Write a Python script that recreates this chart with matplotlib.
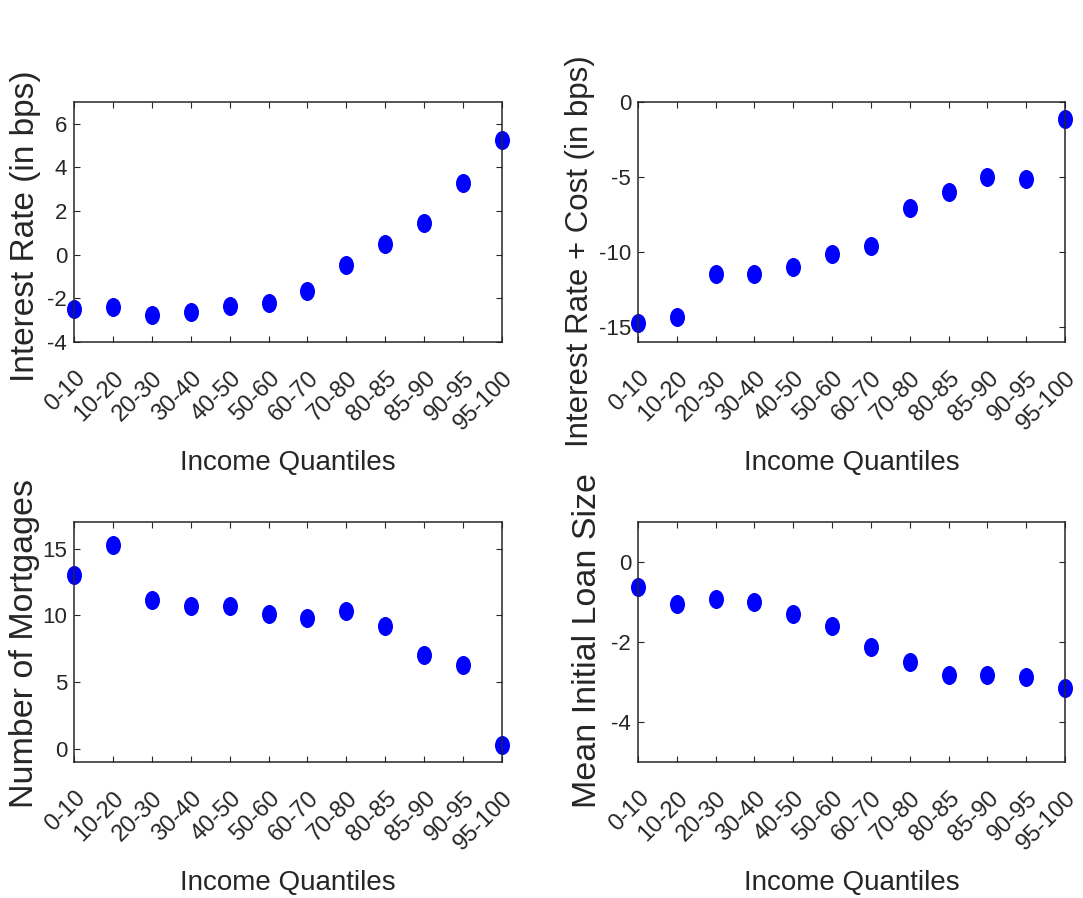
import matplotlib
matplotlib.use('Agg')
import matplotlib.pyplot as plt
from matplotlib.markers import MarkerStyle
from matplotlib.transforms import Affine2D
from matplotlib import font_manager

# data
quantiles = ['0-10', '10-20', '20-30', '30-40', '40-50', '50-60',
             '60-70', '70-80', '80-85', '85-90', '90-95', '95-100']
interest_rate = [-2.48, -2.40, -2.78, -2.61, -2.37, -2.19,
                 -1.68, -0.47, 0.50, 1.47, 3.27, 5.27]
rate_plus_cost = [-14.73, -14.35, -11.44, -11.44, -11.00, -10.16,
                  -9.58, -7.09, -6.00, -4.98, -5.16, -1.11]
n_mortgages = [13.0, 15.3, 11.15, 10.7, 10.7, 10.1,
               9.8, 10.35, 9.2, 7.05, 6.3, 0.3]
loan_size = [-0.625, -1.04, -0.92, -0.99, -1.29, -1.61,
             -2.12, -2.51, -2.82, -2.82, -2.875, -3.15]

ylabels = ['Interest Rate (in bps)', 'Interest Rate + Cost (in bps)',
           'Number of Mortgages', 'Mean Initial Loan Size']
ylims = [(-4, 7), (-16, 0), (-1, 17), (-5, 1)]
yticks = [[-4, -2, 0, 2, 4, 6], [-15, -10, -5, 0], [0, 5, 10, 15], [-4, -2, 0]]
series = [interest_rate, rate_plus_cost, n_mortgages, loan_size]

DARK = '#262626'
plt.rcParams['font.family'] = ['Liberation Sans', 'DejaVu Sans']
plt.rcParams['axes.unicode_minus'] = False

names = set(f.name for f in font_manager.fontManager.ttflist)
if 'Liberation Sans Narrow' in names:
    xlab_font = ['Liberation Sans Narrow', 'Liberation Sans']
    xlab_size = 24
else:
    xlab_font = ['Liberation Sans', 'DejaVu Sans']
    xlab_size = 20

fig = plt.figure(figsize=(10.83, 8.98), dpi=100)

W, H = 1083.0, 898.0
# axes boxes in pixels: left, top, right, bottom
boxes = [(74, 102, 502, 342), (638, 102, 1065, 342),
         (74, 522, 502, 762), (638, 522, 1065, 762)]
# y label placement (x center px, y center px, font size)
ylab_pos = [(26, 226, 24), (580, 251, 22.5), (25, 644, 24.5), (588, 641, 24.5)]

ellipse = MarkerStyle('o', transform=Affine2D().scale(1, 1.27))
x = list(range(1, len(quantiles) + 1))

for i in range(4):
    l, t, r, b = boxes[i]
    ax = fig.add_axes([l / W, 1 - b / H, (r - l) / W, (b - t) / H])
    ax.plot(x, series[i], linestyle='none', marker=ellipse, markersize=10.8,
            color='#0000ff', markeredgewidth=0, clip_on=False)
    ax.set_xlim(1, 12)
    ax.set_ylim(*ylims[i])
    ax.set_yticks(yticks[i])
    ax.set_xticks(x)
    ax.set_xticklabels(quantiles, rotation=45, ha='right', va='top',
                       rotation_mode='anchor', fontsize=17)
    ax.tick_params(direction='in', length=4, width=0.8, colors=DARK,
                   top=True, right=True)
    ax.tick_params(axis='x', pad=18)
    ax.tick_params(axis='y', pad=5, labelsize=16)
    for s in ax.spines.values():
        s.set_color(DARK)
        s.set_linewidth(1.1)

    ax.set_xlabel('Income Quantiles', family=xlab_font, fontsize=xlab_size,
                  color=DARK, va='top')
    ax.xaxis.set_label_coords(0.5, -108.0 / (b - t))

    lx, ly, fs = ylab_pos[i]
    ax.set_ylabel(ylabels[i], fontsize=fs, color=DARK, va='center')
    ax.yaxis.set_label_coords((lx - l) / (r - l), (b - ly) / (b - t))

fig.savefig('out.png', dpi=100, facecolor='white')
